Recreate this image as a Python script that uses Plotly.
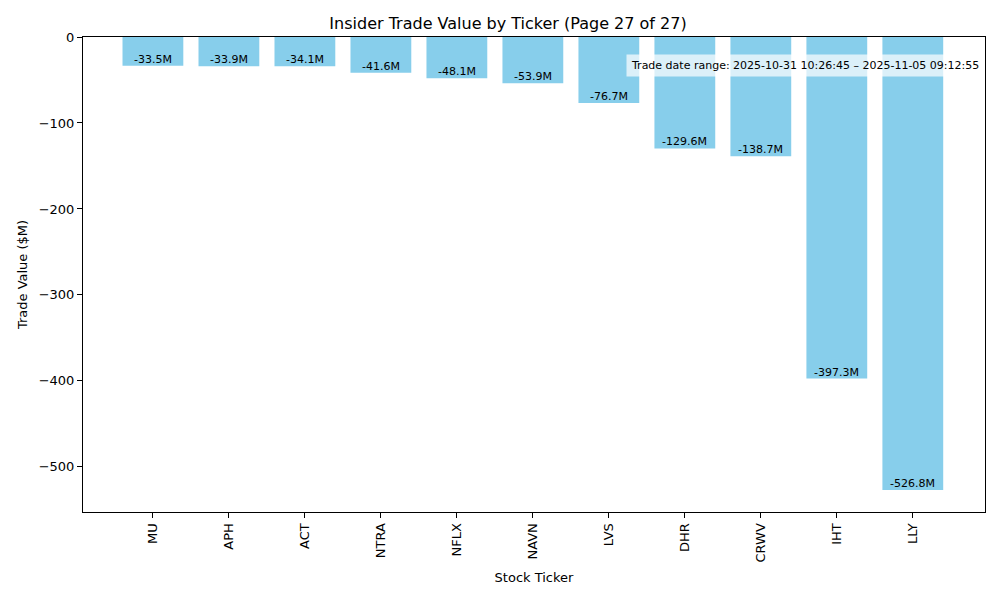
import plotly.graph_objects as go

tickers = ["MU", "APH", "ACT", "NTRA", "NFLX", "NAVN", "LVS", "DHR", "CRWV", "IHT", "LLY"]
values = [-33.5, -33.9, -34.1, -41.6, -48.1, -53.9, -76.7, -129.6, -138.7, -397.3, -526.8]
labels = ["%.1fM" % v for v in values]
title = "Insider Trade Value by Ticker (Page 27 of 27)"
date_range = "Trade date range: 2025-10-31 10:26:45 \u2013 2025-11-05 09:12:55"

font = "DejaVu Sans"
fig = go.Figure()
fig.add_trace(go.Bar(x=list(range(len(tickers))), y=values, width=0.8,
                     marker=dict(color="#87CEEB", line=dict(width=0)),
                     showlegend=False))
for i, (v, t) in enumerate(zip(values, labels)):
    fig.add_annotation(x=i, y=v, text=t, showarrow=False, yanchor="bottom",
                       xanchor="center", font=dict(family=font, size=11, color="black"),
                       yshift=-2)
fig.add_annotation(xref="paper", yref="paper", x=1, y=0.941, text=date_range,
                   showarrow=False, xanchor="right", yanchor="middle",
                   bgcolor="rgba(255,255,255,0.7)", borderpad=4, xshift=-1,
                   font=dict(family=font, size=11, color="black"))
fig.update_layout(
    width=1000, height=600,
    margin=dict(l=75, r=23, t=29, b=96),
    paper_bgcolor="white", plot_bgcolor="white",
    font=dict(family=font, size=13, color="black"),
    title=dict(text=title, x=0.5, xanchor="center", y=0.975, yanchor="middle",
               font=dict(family=font, size=16, color="black")),
)
fig.update_xaxes(range=[-0.92, 10.95], tickmode="array", tickvals=list(range(len(tickers))),
                 ticktext=tickers, tickangle=-90, showline=True, linecolor="black",
                 linewidth=1, mirror=True, ticks="outside", ticklen=5, tickcolor="black",
                 showgrid=False, zeroline=False,
                 title=dict(text="Stock Ticker", font=dict(family=font, size=13), standoff=11))
fig.update_yaxes(range=[-552.5, 0], tickvals=[0, -100, -200, -300, -400, -500],
                 showline=True, linecolor="black", linewidth=1, mirror=True,
                 ticks="outside", ticklen=5, tickcolor="black", showgrid=False,
                 zeroline=False,
                 title=dict(text="Trade Value ($M)", font=dict(family=font, size=13), standoff=8))
fig.write_html("out.html")
